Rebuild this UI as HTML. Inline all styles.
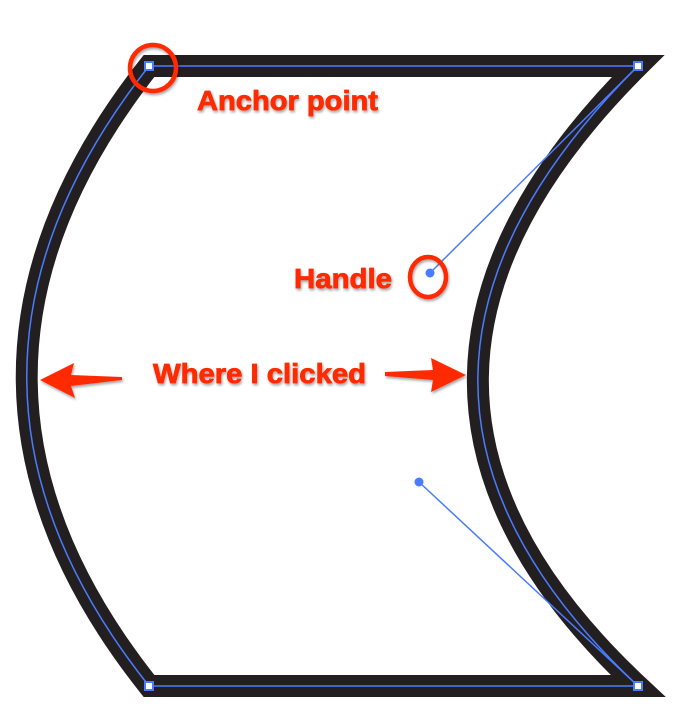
<!DOCTYPE html>
<html><head><meta charset="utf-8"><style>
html,body{margin:0;padding:0;background:#fff;}
svg{display:block;}
text{font-family:"Liberation Sans",Arial,sans-serif;font-weight:bold;font-size:28px;fill:#ff2a00;stroke:#ff2a00;stroke-width:0.8;}
</style></head><body>
<svg width="676" height="728" viewBox="0 0 676 728" xmlns="http://www.w3.org/2000/svg">
<defs>
<filter id="sh" x="-20%" y="-50%" width="140%" height="200%">
<feDropShadow dx="1" dy="2" stdDeviation="1.2" flood-color="#000" flood-opacity="0.35"/>
</filter>
</defs>
<path d="M149,66 L638,66 C430,273 419,481 638,686 L149,686 C-14,481 -14,273 149,66 Z" fill="none" stroke="#231f20" stroke-width="22" stroke-linejoin="miter" stroke-miterlimit="10"/>
<path d="M149,66 L638,66 C430,273 419,481 638,686 L149,686 C-14,481 -14,273 149,66 Z" fill="none" stroke="#4a7cff" stroke-width="1.5"/>
<line x1="638" y1="66" x2="430" y2="273" stroke="#4a7cff" stroke-width="1.5"/>
<line x1="638" y1="686" x2="419" y2="482" stroke="#4a7cff" stroke-width="1.5"/>
<circle cx="430" cy="273" r="4.5" fill="#4a7cff"/>
<circle cx="419" cy="482" r="4.5" fill="#4a7cff"/>
<g fill="#fff" stroke="#4a7cff" stroke-width="2">
<rect x="145" y="62" width="8" height="8"/>
<rect x="634" y="62" width="8" height="8"/>
<rect x="145" y="682" width="8" height="8"/>
<rect x="634" y="682" width="8" height="8"/>
</g>
<g filter="url(#sh)">
<circle cx="153" cy="68" r="23" fill="none" stroke="#ff2a00" stroke-width="4.5"/>
<ellipse cx="428" cy="277" rx="18" ry="20" fill="none" stroke="#ff2a00" stroke-width="4.5"/>
<text x="197" y="110" textLength="181" lengthAdjust="spacingAndGlyphs">Anchor point</text>
<text x="294" y="288" textLength="98" lengthAdjust="spacingAndGlyphs">Handle</text>
<text x="153" y="383" textLength="213" lengthAdjust="spacingAndGlyphs">Where I clicked</text>
<path d="M40,380 L74,363 L71,375 L122,377 L122,380 L71,386 L75,398 Z" fill="#ff2a00" stroke="none"/>
<path d="M466,375 L431,358 L433,370 L385,372 L385,376 L433,380 L431,392 Z" fill="#ff2a00" stroke="none"/>
</g>
</svg>
</body></html>
